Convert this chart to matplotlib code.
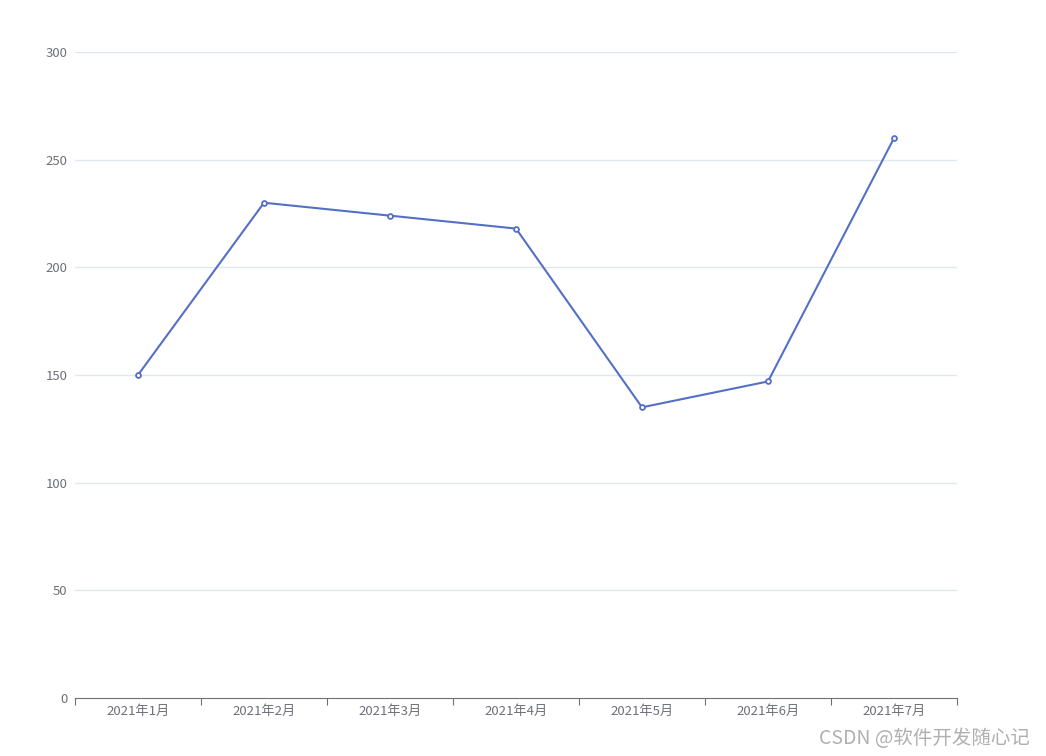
import matplotlib.pyplot as plt
import numpy as np

plt.rcParams['font.family'] = ['Noto Sans CJK SC', 'DejaVu Sans']

# 数据
months = ["2021年1月", "2021年2月", "2021年3月", "2021年4月", "2021年5月", "2021年6月", "2021年7月"]
values = [150, 230, 224, 218, 135, 147, 260]
y_ticks = [0, 50, 100, 150, 200, 250, 300]

fig = plt.figure(figsize=(10.46, 7.56), dpi=100)
ax = fig.add_axes([75 / 1046, 58 / 756, 882 / 1046, 646 / 756])

x = np.arange(len(months))
ax.plot(x, values, color='#5470c6', linewidth=1.5, marker='o', markersize=3.5,
        markerfacecolor='white', markeredgecolor='#5470c6', markeredgewidth=1.3, zorder=3)

ax.set_xlim(-0.5, len(months) - 0.5)
ax.set_ylim(0, 300)

# 网格线
for y in y_ticks[1:]:
    ax.axhline(y, color='#e0e6f1', linewidth=1, zorder=1)

ax.set_yticks(y_ticks)
ax.set_yticklabels([str(v) for v in y_ticks])
ax.tick_params(axis='y', length=0, pad=5.5, labelsize=9.5, labelcolor='#6e7079')

# 类目轴：刻度在边界，标签在中间
ax.set_xticks(np.arange(-0.5, len(months), 1.0))
ax.set_xticklabels([])
ax.set_xticks(x, minor=True)
ax.set_xticklabels(months, minor=True)
ax.tick_params(axis='x', which='major', length=5, color='#6e7079', direction='out')
ax.tick_params(axis='x', which='minor', length=0, pad=5, labelsize=9.5, labelcolor='#6e7079')

for side in ['top', 'right', 'left']:
    ax.spines[side].set_visible(False)
ax.spines['bottom'].set_color('#6e7079')

# 水印
fig.text(1030 / 1046, 1 - 738 / 756, 'CSDN @软件开发随心记', ha='right', va='center',
         fontsize=14, color='#b0b0b0')

fig.savefig('out.png', dpi=100)
